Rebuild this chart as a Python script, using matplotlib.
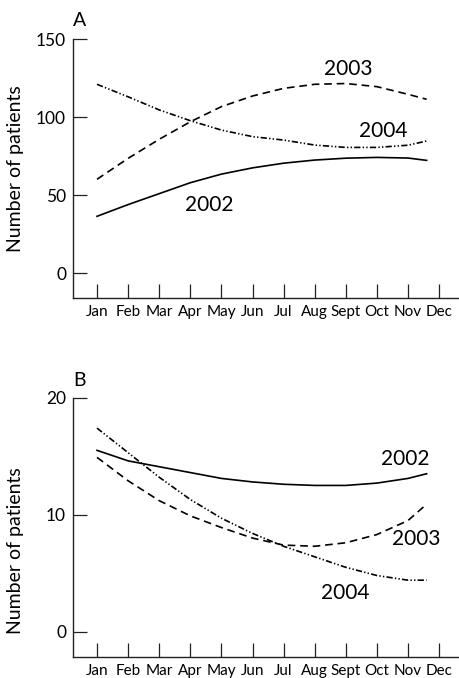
import matplotlib
matplotlib.use("Agg")
import matplotlib.pyplot as plt

plt.rcParams['font.family'] = ['Lato', 'DejaVu Sans']
plt.rcParams['lines.scale_dashes'] = False

months = ['Jan', 'Feb', 'Mar', 'Apr', 'May', 'Jun', 'Jul', 'Aug', 'Sept', 'Oct', 'Nov', 'Dec']
month_pos = [1, 2, 3, 4, 5, 6, 7, 8, 9, 10, 11, 12]

# curves sampled at each month, last point ends just past mid Nov
x_curve = [1, 2, 3, 4, 5, 6, 7, 8, 9, 10, 11, 11.6]

# Panel A
a_2002 = [36.5, 44, 51, 58, 63.5, 67.5, 70.5, 72.5, 73.7, 74.2, 73.8, 72.3]
a_2003 = [60.2, 73.6, 85.8, 97, 106.7, 113.5, 118.4, 121, 121.5, 119.5, 114.6, 111.4]
a_2004 = [121, 113, 104.6, 97.7, 91.7, 87.5, 85.3, 82.1, 80.6, 80.6, 82, 84.7]

# Panel B
b_2002 = [15.5, 14.6, 14.1, 13.6, 13.1, 12.8, 12.6, 12.5, 12.5, 12.7, 13.1, 13.5]
b_2003 = [14.9, 12.9, 11.2, 9.9, 8.9, 8.0, 7.4, 7.3, 7.6, 8.3, 9.5, 10.9]
b_2004 = [17.4, 15.3, 13.2, 11.3, 9.7, 8.4, 7.3, 6.4, 5.5, 4.8, 4.4, 4.4]

a_yticks = [0, 50, 100, 150]
b_yticks = [0, 10, 20]

styles = {
    '2002': dict(linestyle='-'),
    '2003': dict(linestyle=(0, (5.5, 3.5))),
    '2004': dict(linestyle=(0, (4.5, 1.6, 1, 1.6, 1, 1.6))),
}

fig = plt.figure(figsize=(4.59, 6.78), dpi=100)
axA = fig.add_axes([73/459, 1 - 298/678, 386/459, 259/678])
axB = fig.add_axes([73/459, 1 - 656.7/678, 386/459, 259/678])


def style_axis(ax, yticks, ylim, label_y):
    ax.set_xlim(0.228, 12.64)
    ax.set_ylim(*ylim)
    ax.set_xticks(month_pos)
    ax.set_xticklabels(months, fontsize=11)
    ax.set_yticks(yticks)
    ax.set_yticklabels([str(t) for t in yticks], fontsize=12.5)
    ax.spines['top'].set_visible(False)
    ax.spines['right'].set_visible(False)
    for s in ['left', 'bottom']:
        ax.spines[s].set_linewidth(1.0)
        ax.spines[s].set_color('#222222')
    ax.tick_params(axis='both', direction='in', length=10, width=0.9, color='#222222')
    ax.tick_params(axis='x', pad=5)
    ax.tick_params(axis='y', pad=5)
    ax.set_ylabel('Number of patients', fontsize=14)
    ax.yaxis.set_label_coords(-0.128, label_y)


for ax, data in [(axA, [a_2002, a_2003, a_2004]), (axB, [b_2002, b_2003, b_2004])]:
    for year, vals in zip(['2002', '2003', '2004'], data):
        ax.plot(x_curve, vals, color='black', linewidth=1.2, **styles[year])

style_axis(axA, a_yticks, (-15.8, 150), 0.5)
style_axis(axB, b_yticks, (-2.14, 20), 0.41)

# line labels
axA.text(4.6, 43.7, '2002', fontsize=15, ha='center', va='center')
axA.text(9.07, 130.5, '2003', fontsize=15, ha='center', va='center')
axA.text(10.2, 90.8, '2004', fontsize=15, ha='center', va='center')
axB.text(10.9, 14.76, '2002', fontsize=15, ha='center', va='center')
axB.text(11.27, 7.9, '2003', fontsize=15, ha='center', va='center')
axB.text(8.97, 3.3, '2004', fontsize=15, ha='center', va='center')

fig.text(73/459, 1 - 20/678, 'A', fontsize=14, ha='left', va='center')
fig.text(73/459, 1 - 380/678, 'B', fontsize=14, ha='left', va='center')

fig.savefig('out.png', dpi=100)
plt.close(fig)
